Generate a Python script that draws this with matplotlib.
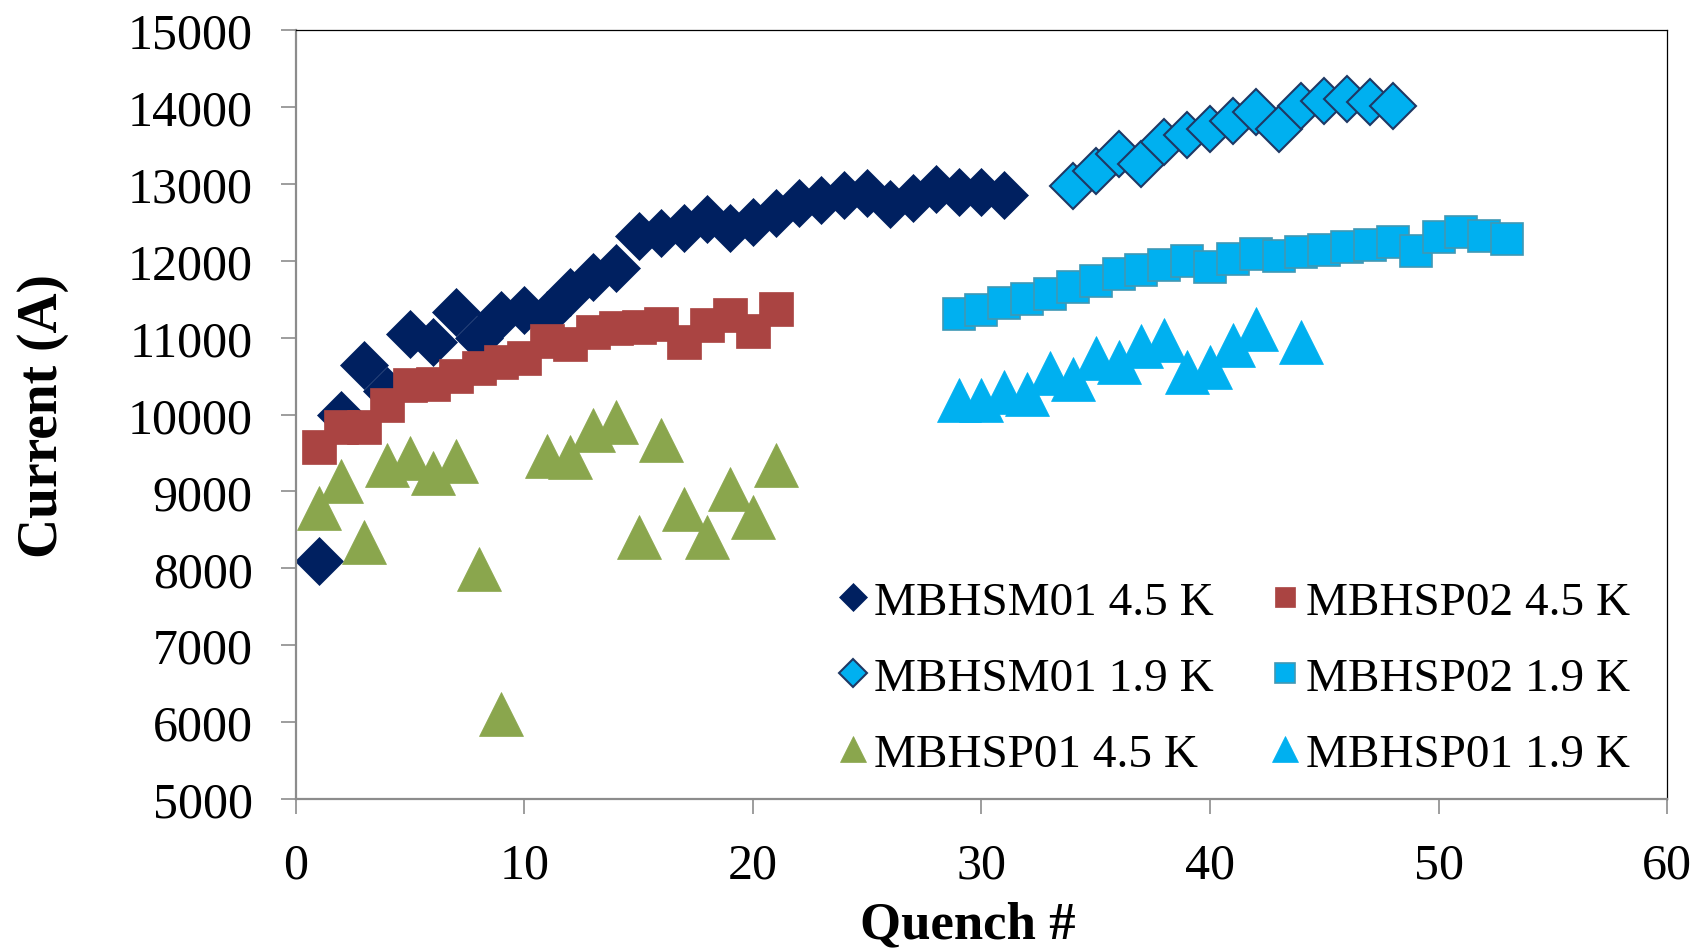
import matplotlib
matplotlib.use("Agg")
import matplotlib.pyplot as plt

plt.rcParams['font.family'] = ['Liberation Serif', 'DejaVu Serif']

# MBHSM01 4.5 K
sm01_45_x = list(range(1, 32))
sm01_45_y = [8100, 10000, 10650, 10300, 11050, 10940, 11330, 10990, 11290, 11360,
             11290, 11590, 11790, 11900, 12320, 12360, 12430, 12540, 12430, 12500,
             12620, 12750, 12790, 12860, 12880, 12740, 12820, 12930, 12890, 12890,
             12860]

# MBHSP02 4.5 K
sp02_45_x = list(range(1, 22))
sp02_45_y = [9575, 9840, 9840, 10120, 10380, 10400, 10500, 10600, 10680, 10740,
             10960, 10920, 11070, 11120, 11140, 11180, 10940, 11160, 11300, 11090,
             11370]

# MBHSP01 4.5 K
sp01_45_x = [1, 2, 3, 4, 5, 6, 7, 8, 9, 11, 12, 13, 14, 15, 16, 17, 18, 19, 20, 21]
sp01_45_y = [8780, 9140, 8345, 9345, 9430, 9245, 9400, 7985, 6110, 9460,
             9450, 9800, 9900, 8405, 9670, 8775, 8410, 9035, 8665, 9345]

# MBHSM01 1.9 K
sm01_19_x = list(range(34, 49))
sm01_19_y = [12966, 13166, 13392, 13253, 13544, 13631, 13718, 13813, 13935, 13718,
             14013, 14078, 14100, 14057, 14013]

# MBHSP02 1.9 K
sp02_19_x = list(range(29, 54))
sp02_19_y = [11306, 11362, 11453, 11502, 11571, 11653, 11732, 11828, 11875, 11950,
             11992, 11919, 12023, 12093, 12067, 12119, 12141, 12175, 12210, 12240,
             12123, 12305, 12375, 12327, 12284]

# MBHSP01 1.9 K
sp01_19_x = [29, 30, 31, 32, 33, 34, 35, 36, 37, 38, 39, 40, 41, 42, 44]
sp01_19_y = [10185, 10185, 10287, 10263, 10537, 10456, 10737, 10678, 10893, 10967,
             10548, 10619, 10906, 11115, 10945]

navy = '#002060'
red = '#AA4442'
green = '#8AA64D'
light = '#00B0F0'

fig = plt.figure(figsize=(17.03, 9.53), dpi=100)
ax = fig.add_axes([0.1736, 0.1605, 0.8054, 0.807])

ms_d = 24
ms_s = 24.5
ms_t = 31

h1, = ax.plot(sm01_45_x, sm01_45_y, 'D', color=navy, ms=ms_d, mew=0.5, mec=navy,
              label='MBHSM01 4.5 K')
h4, = ax.plot(sp02_45_x, sp02_45_y, 's', color=red, ms=ms_s, mew=0.5, mec=red,
              label='MBHSP02 4.5 K')
h3, = ax.plot(sp01_45_x, sp01_45_y, '^', color=green, ms=ms_t, mew=0.5, mec=green,
              label='MBHSP01 4.5 K')
h2, = ax.plot(sm01_19_x, sm01_19_y, 'D', color=light, ms=ms_d - 1, mew=1.5, mec='#1F3864',
              label='MBHSM01 1.9 K')
h5, = ax.plot(sp02_19_x, sp02_19_y, 's', color=light, ms=ms_s - 1, mew=1.2, mec='#3F98B5',
              label='MBHSP02 1.9 K')
h6, = ax.plot(sp01_19_x, sp01_19_y, '^', color=light, ms=ms_t, mew=0.5, mec=light,
              label='MBHSP01 1.9 K')

ax.set_xlim(0, 60)
ax.set_ylim(5000, 15000)
ax.set_xticks(range(0, 61, 10))
ax.set_yticks(range(5000, 15001, 1000))

for s in ['left', 'bottom']:
    ax.spines[s].set_color('#8C8C8C')
    ax.spines[s].set_linewidth(1.6)
for s in ['top', 'right']:
    ax.spines[s].set_color('black')
    ax.spines[s].set_linewidth(0.9)

ax.tick_params(axis='both', direction='out', length=11, width=1.2, color='#8C8C8C',
               labelsize=36, pad=20)

ax.set_xlabel('Quench #', fontsize=38, fontweight='bold')
ax.set_ylabel('Current (A)', fontsize=40, fontweight='bold')
ax.xaxis.set_label_coords(0.49, -0.132)
ax.yaxis.set_label_coords(-0.165, 0.5)

leg = ax.legend(handles=[h1, h2, h3, h4, h5, h6], ncol=2, loc='lower right',
                bbox_to_anchor=(0.997, -0.013), frameon=False, fontsize=34,
                markerscale=0.6, handlelength=0.6, handletextpad=0.15,
                columnspacing=1.2, labelspacing=0.70, borderpad=0.2)

fig.savefig('out.png', dpi=100)
